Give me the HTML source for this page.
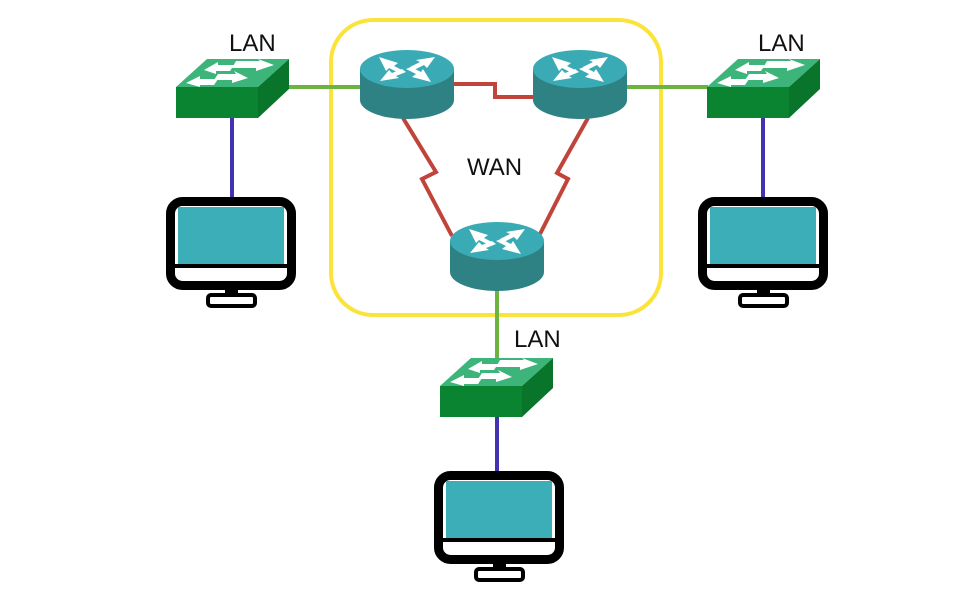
<!DOCTYPE html>
<html><head><meta charset="utf-8"><style>
html,body{margin:0;padding:0;background:#fff;width:960px;height:600px;overflow:hidden}
text{font-family:"Liberation Sans","DejaVu Sans",sans-serif;fill:#111}
</style></head><body>
<svg width="960" height="600" viewBox="0 0 960 600" xmlns="http://www.w3.org/2000/svg">
<defs>
<g id="sw">
  <polygon points="0,0 31,-28 113,-28 82,0" fill="#3cb47a"/>
  <rect x="0" y="0" width="82" height="31" fill="#0a8430"/>
  <polygon points="82,0 113,-28 113,2 82,31" fill="#08752a"/>
  <g fill="#fff">
    <polygon points="10,-4 24,-11 24,-8 42,-8 38,-2 24,-2 24,0"/>
    <polygon points="42,-13 60,-13 58,-16 72,-9 56,-4 56,-7 38,-7"/>
    <polygon points="28,-17 42,-25 42,-22 58,-22 54,-16 40,-16 40,-13"/>
    <polygon points="60,-26 84,-26 82,-28 98,-22 80,-16 80,-19 56,-19"/>
  </g>
</g>
<g id="rt">
  <path d="M-47,0 L-47,31 A47,19 0 0 0 47,31 L47,0 Z" fill="#2e8283"/>
  <ellipse cx="0" cy="0" rx="47" ry="19" fill="#3aabb5"/>
  <g fill="#fff">
    <polygon points="-28,-12 -9,-6 -13,-3 -3,2 -8,4 -18,-1 -21,2"/>
    <polygon points="28,-12 20,-1 17,-4 7,1 3,-2 13,-7 9,-9"/>
    <polygon points="-27,12 -18,1 -15,4 -5,0 -1,3 -11,7 -8,9"/>
    <polygon points="24,13 5,8 9,5 -1,0 4,-2 14,3 16,0"/>
  </g>
</g>
<g id="mon">
  <rect x="4.5" y="4.5" width="121" height="84" rx="12" fill="#fff" stroke="#000" stroke-width="9"/>
  <rect x="12" y="10" width="106" height="58" fill="#3caeb7"/>
  <rect x="9" y="67" width="112" height="4" fill="#000"/>
  <rect x="59" y="92" width="13" height="8" fill="#000"/>
  <rect x="42" y="98" width="47" height="11" rx="3" fill="#fff" stroke="#000" stroke-width="4"/>
</g>
</defs>

<rect x="331" y="20" width="330" height="295" rx="42" fill="none" stroke="#fbe33a" stroke-width="4"/>

<g fill="none" stroke-width="4">
  <line x1="289" y1="87" x2="362" y2="87" stroke="#6db33f"/>
  <line x1="625" y1="87" x2="708" y2="87" stroke="#6db33f"/>
  <line x1="497" y1="290" x2="497" y2="360" stroke="#6db33f"/>
  <line x1="232" y1="117" x2="232" y2="198" stroke="#4433b0"/>
  <line x1="763" y1="117" x2="763" y2="198" stroke="#4433b0"/>
  <line x1="497" y1="415" x2="497" y2="472" stroke="#4433b0"/>
  <polyline points="452,84 495,84 495,97 535,97" stroke="#c0443a"/>
  <polyline points="403,118 436,172 422,179 452,236" stroke="#c0443a"/>
  <polyline points="588,118 557,173 568,179 540,234" stroke="#c0443a"/>
</g>

<use href="#sw" x="176" y="87"/>
<use href="#sw" x="707" y="87"/>
<use href="#sw" x="440" y="386"/>

<use href="#rt" x="407" y="69"/>
<use href="#rt" x="580" y="69"/>
<use href="#rt" x="497" y="241"/>

<use href="#mon" x="166" y="197"/>
<use href="#mon" x="698" y="197"/>
<use href="#mon" x="434" y="471"/>

<text x="229" y="51" font-size="24">LAN</text>
<text x="758" y="51" font-size="24">LAN</text>
<text x="514" y="347" font-size="24">LAN</text>
<text x="467" y="175" font-size="24">WAN</text>
</svg>
</body></html>
